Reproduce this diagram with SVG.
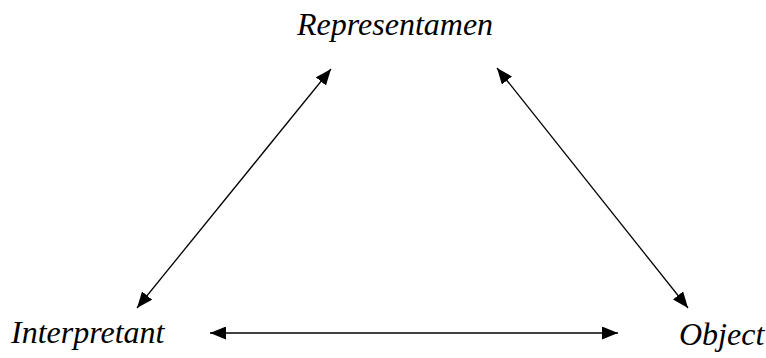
<svg xmlns="http://www.w3.org/2000/svg" width="766" height="358" viewBox="0 0 766 358">
<style>
.lbl{font-family:"Liberation Serif","Times New Roman",serif;font-style:italic;font-size:32px;fill:#000}
.con{stroke:#000;stroke-width:1.3;fill:none;marker-start:url(#ah);marker-end:url(#ah)}
</style>
<defs>
<marker id="ah" viewBox="0 0 16 13" refX="16" refY="6.5" markerWidth="16" markerHeight="13" markerUnits="userSpaceOnUse" orient="auto-start-reverse">
<path d="M0,0 L16,6.5 L0,13 Z" fill="#000"/>
</marker>
</defs>
<rect width="766" height="358" fill="#fff"/>
<g id="connectors">
<line class="con" x1="331" y1="69" x2="137" y2="308"/>
<line class="con" x1="497" y1="68" x2="688" y2="308"/>
<line class="con" x1="210" y1="333" x2="618" y2="333"/>
</g>
<g id="representamen"><text class="lbl" x="297" y="35">Representamen</text></g>
<g id="interpretant"><text class="lbl" x="11" y="343">Interpretant</text></g>
<g id="object"><text class="lbl" x="679" y="345">Object</text></g>
</svg>
